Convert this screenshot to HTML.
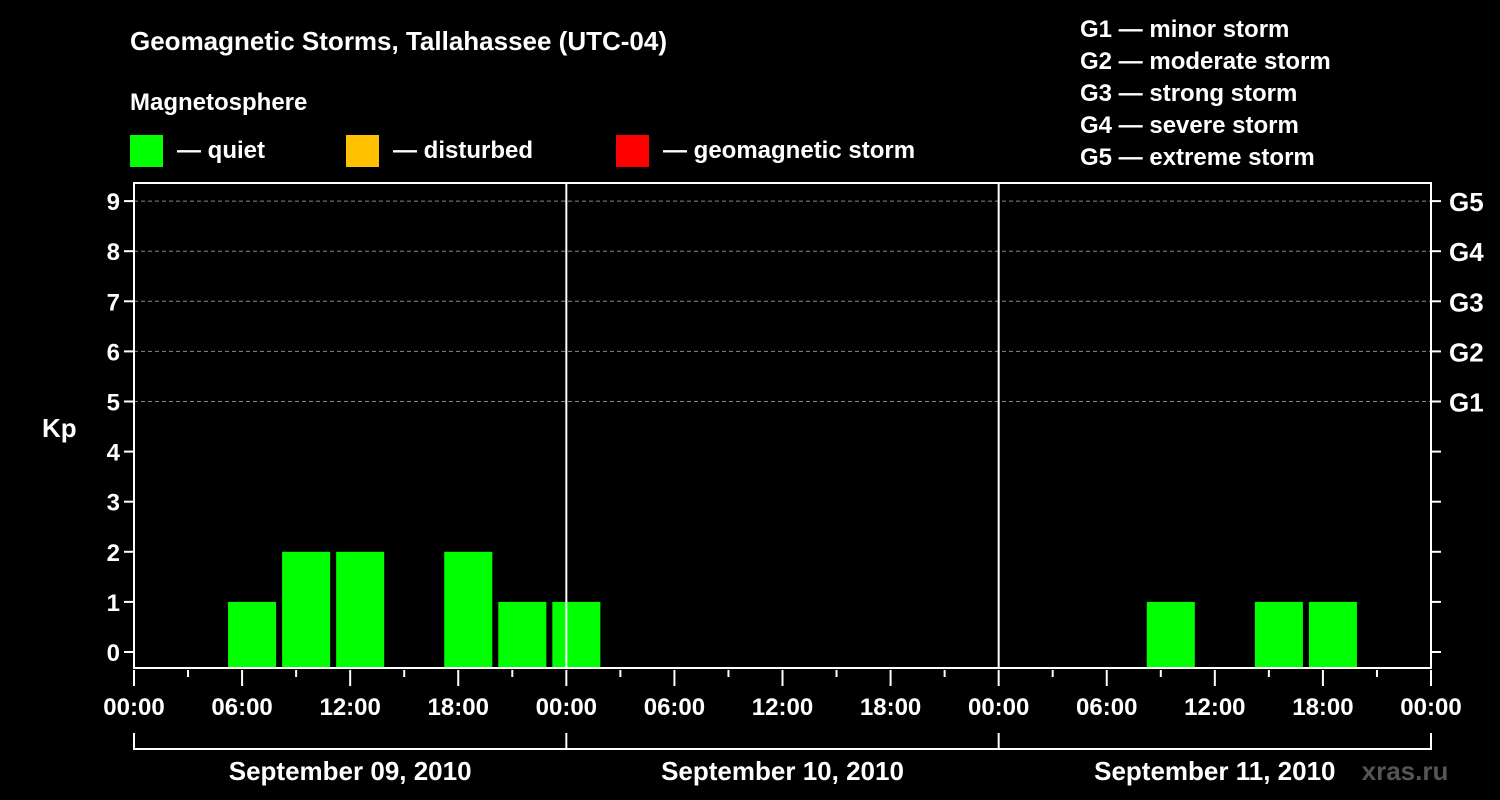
<!DOCTYPE html>
<html><head><meta charset="utf-8">
<style>
html,body{margin:0;padding:0;background:#000;}
svg{display:block;font-family:"Liberation Sans",Arial,sans-serif;font-weight:bold;}
</style></head>
<body>
<svg id="chart" width="1500" height="800" viewBox="0 0 1500 800" xmlns="http://www.w3.org/2000/svg">
<rect width="1500" height="800" fill="#000"/>
<text x="130" y="50" fill="#fff" font-size="26">Geomagnetic Storms, Tallahassee (UTC-04)</text>
<text x="130" y="110" fill="#fff" font-size="24">Magnetosphere</text>
<g><rect x="130" y="135" width="33" height="32" fill="#00ff00"/><text x="177" y="158" fill="#fff" font-size="24">— quiet</text></g>
<g><rect x="346" y="135" width="33" height="32" fill="#ffc000"/><text x="393" y="158" fill="#fff" font-size="24">— disturbed</text></g>
<g><rect x="616" y="135" width="33" height="32" fill="#ff0000"/><text x="663" y="158" fill="#fff" font-size="24">— geomagnetic storm</text></g>
<g fill="#fff" font-size="24">
<text x="1080" y="37">G1 — minor storm</text>
<text x="1080" y="69">G2 — moderate storm</text>
<text x="1080" y="101">G3 — strong storm</text>
<text x="1080" y="133">G4 — severe storm</text>
<text x="1080" y="165">G5 — extreme storm</text>
</g>
<text x="42" y="437" fill="#fff" font-size="26">Kp</text>
<g id="plot"></g>
<text x="1405" y="780" fill="#555" font-size="26" text-anchor="middle">xras.ru</text>
</svg>
<script>
const dayLabels = ["September 09, 2010","September 10, 2010","September 11, 2010"];
const slotStartHours = [2,5,8,11,14,17,20,23];
const kpDay1 = [0,1,2,2,0,2,1,1];
const kpDay2 = [0,0,0,0,0,0,0,0];
const kpDay3 = [0,0,1,0,1,1,0,0];
const hourTickLabels = ["00:00","06:00","12:00","18:00"];
const kpTicks = [0,1,2,3,4,5,6,7,8,9];
const stormLabels = ["G1","G2","G3","G4","G5"];
const stormLevels = [5,6,7,8,9];

const NS="http://www.w3.org/2000/svg";
const X0=134, X1=1431, TOP=183, BOT=668;
const xScale = h => X0 + (X1-X0)*h/72;
const yScale = v => 652 - v*50.1;
const plot=document.getElementById('plot');
function mk(tag,attrs){const e=document.createElementNS(NS,tag);for(const k in attrs)e.setAttribute(k,attrs[k]);plot.appendChild(e);return e;}

// grid lines
stormLevels.forEach(v=>{
  const l=mk('line',{x1:X0,x2:X1,y1:yScale(v),y2:yScale(v),stroke:'#888','stroke-width':1,'stroke-dasharray':'4,3'});
  
  
});
// bars
[kpDay1,kpDay2,kpDay3].forEach((arr,d)=>{
  arr.forEach((v,i)=>{
    if(v<=0) return;
    const h=d*24+slotStartHours[i];
    const x=xScale(h)+4, w=xScale(h+3)-xScale(h)-6;
    const b=mk('rect',{x:x,y:yScale(v),width:w,height:BOT-yScale(v),fill:'#00ff00'});
    
    
  });
});
// frame
const fr=mk('rect',{x:X0,y:TOP,width:X1-X0,height:BOT-TOP,fill:'none',stroke:'#fff','stroke-width':2});


[1,2].forEach(d=>{
  const l=mk('line',{x1:xScale(d*24),x2:xScale(d*24),y1:TOP,y2:BOT,stroke:'#fff','stroke-width':2});
  
  
});
// y ticks
kpTicks.forEach(v=>{
  const y=yScale(v);
  mk('line',{x1:X0-10,x2:X0,y1:y,y2:y,stroke:'#fff','stroke-width':2});
  mk('line',{x1:X1,x2:X1+10,y1:y,y2:y,stroke:'#fff','stroke-width':2});
  const t=mk('text',{x:X0-14,y:y+9,fill:'#fff','font-size':24,'text-anchor':'end'});
  t.textContent=v;
  
  
});
stormLabels.forEach((s,i)=>{
  const t=mk('text',{x:X1+18,y:yScale(stormLevels[i])+10,fill:'#fff','font-size':26});
  t.textContent=s;
  
  
});
// x ticks
for(let h=0;h<=72;h+=3){
  const x=xScale(h);
  const major=h%6===0;
  mk('line',{x1:x,x2:x,y1:BOT+2,y2:major?BOT+18:BOT+9,stroke:'#fff','stroke-width':2});
  if(major){
    const t=mk('text',{x:x,y:715,fill:'#fff','font-size':24,'text-anchor':'middle'});
    t.textContent=hourTickLabels[(h/6)%4];
    
    
  }
}
// day brackets
mk('line',{x1:X0,x2:X1,y1:749,y2:749,stroke:'#fff','stroke-width':2});
for(let d=0;d<=3;d++) mk('line',{x1:xScale(d*24),x2:xScale(d*24),y1:733,y2:750,stroke:'#fff','stroke-width':2});
dayLabels.forEach((s,d)=>{
  const t=mk('text',{x:xScale(d*24+12),y:780,fill:'#fff','font-size':26,'text-anchor':'middle'});
  t.textContent=s;
  
  
});
</script>
</body></html>
